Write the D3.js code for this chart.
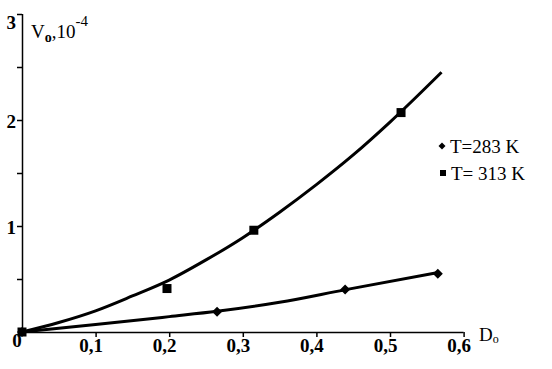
<!DOCTYPE html>
<html>
<head>
<meta charset="utf-8">
<script src="https://cdnjs.cloudflare.com/ajax/libs/d3/7.8.5/d3.min.js"></script>
<style>
  html, body { margin: 0; padding: 0; background: #fff; }
</style>
</head>
<body>
<div id="chart"></div>
<script>
// axis ticks
const xTickVals = [0.1, 0.2, 0.3, 0.4, 0.5, 0.6];
const xTickLabels = ['0,1', '0,2', '0,3', '0,4', '0,5', '0,6'];
const yTickVals = [1, 2, 3];
const yMinorVals = [0.5, 1.5, 2.5];

// measured points, T = 283 K (diamonds)
const d283 = [0, 0.265, 0.439, 0.565];
const v283 = [0, 0.19, 0.40, 0.55];
// measured points, T = 313 K (squares)
const d313 = [0, 0.197, 0.315, 0.515];
const v313 = [0, 0.41, 0.96, 2.07];

// fitted curves
const fit283D = [0, 0.1, 0.2, 0.265, 0.35, 0.44, 0.565];
const fit283V = [0, 0.07, 0.145, 0.195, 0.28, 0.40, 0.56];
const fit313D = [0, 0.05, 0.1, 0.15, 0.2, 0.25, 0.3, 0.35, 0.4, 0.45, 0.5, 0.57];
const fit313V = [0, 0.09, 0.2, 0.34, 0.49, 0.68, 0.89, 1.13, 1.39, 1.67, 1.98, 2.45];

const legendNames = ['T=283 K', 'T= 313 K'];

const SERIF = '"Liberation Serif", "Times New Roman", Times, serif';

class RateChart {
  constructor() {
    this.divId = 'chart';
    this.visConfig = {
      width: 552,
      height: 369,
      x0: 22,
      x1: 463.6,
      y0: 332,
      y1: 14
    };
    this.fontSize = 19;
  }

  diamond(w, h) {
    return `M0,${-h}L${w},0L0,${h}L${-w},0Z`;
  }

  init() {
    const cfg = this.visConfig;
    const svg = d3.select(`#${this.divId}`)
      .append('svg')
      .attr('width', cfg.width)
      .attr('height', cfg.height)
      .style('font-family', SERIF);

    const xscale = d3.scaleLinear().domain([0, 0.6]).range([cfg.x0, cfg.x1]);
    const yscale = d3.scaleLinear().domain([0, 3]).range([cfg.y0, cfg.y1]);

    // x axis, ticks pointing down
    const bottomAxis = d3.axisBottom(xscale)
      .tickValues(xTickVals)
      .tickSize(5)
      .tickFormat((d, i) => xTickLabels[i]);
    const xaxis = svg.append('g')
      .attr('transform', `translate(0, ${cfg.y0})`)
      .call(bottomAxis);
    xaxis.attr('font-family', null);
    xaxis.select('.domain').attr('d', `M${cfg.x0},0.5H${cfg.x1}`).attr('stroke-width', 1.5);
    xaxis.selectAll('.tick line').attr('stroke-width', 1.5);
    xaxis.selectAll('.tick text')
      .style('font-family', SERIF)
      .attr('font-size', this.fontSize)
      .attr('font-weight', 'bold')
      .attr('y', 7)
      .attr('dx', -5);

    // y axis, major + minor ticks pointing left
    const leftAxis = d3.axisLeft(yscale)
      .tickValues(yTickVals.concat(yMinorVals))
      .tickSize(5)
      .tickFormat(d => (yTickVals.includes(d) ? String(d) : ''));
    const yaxis = svg.append('g')
      .attr('transform', `translate(${cfg.x0}, 0)`)
      .call(leftAxis);
    yaxis.attr('font-family', null);
    yaxis.select('.domain').attr('d', `M0.5,${cfg.y0}V${cfg.y1}`).attr('stroke-width', 1.5);
    yaxis.selectAll('.tick line').attr('stroke-width', 1.5);
    yaxis.selectAll('.tick text')
      .style('font-family', SERIF)
      .attr('font-size', this.fontSize)
      .attr('font-weight', 'bold')
      .attr('x', -6)
      .attr('dy', d => (d === 3 ? '0.75em' : '0.4em'));

    // origin label
    svg.append('text')
      .attr('x', 17).attr('y', 347)
      .attr('text-anchor', 'middle')
      .attr('font-size', this.fontSize)
      .attr('font-weight', 'bold')
      .text('0');

    // axis titles
    const yTitle = svg.append('text')
      .attr('x', 31).attr('y', 38)
      .attr('font-size', this.fontSize);
    yTitle.append('tspan').text('V');
    yTitle.append('tspan').attr('font-size', 14).attr('dy', 4).attr('font-weight', 'bold').text('o');
    yTitle.append('tspan').attr('dy', -4).text(',10');
    yTitle.append('tspan').attr('font-size', 15).attr('dy', -12).text('-4');

    const xTitle = svg.append('text')
      .attr('x', 479).attr('y', 341)
      .attr('font-size', this.fontSize);
    xTitle.append('tspan').text('D');
    xTitle.append('tspan').attr('font-size', 12).attr('dy', 2).text('o');

    // fitted lines
    const line = d3.line()
      .x(d => xscale(d[0]))
      .y(d => yscale(d[1]))
      .curve(d3.curveMonotoneX);

    svg.append('path')
      .datum(fit283D.map((d, i) => [d, fit283V[i]]))
      .attr('d', line)
      .attr('fill', 'none')
      .attr('stroke', '#000')
      .attr('stroke-width', 3);

    svg.append('path')
      .datum(fit313D.map((d, i) => [d, fit313V[i]]))
      .attr('d', line)
      .attr('fill', 'none')
      .attr('stroke', '#000')
      .attr('stroke-width', 3);

    // markers
    svg.selectAll('.pt283')
      .data(d283.map((d, i) => [d, v283[i]]))
      .enter()
      .append('path')
      .attr('class', 'pt283')
      .attr('d', this.diamond(5, 5))
      .attr('transform', d => `translate(${xscale(d[0])}, ${yscale(d[1])})`)
      .attr('fill', '#000');

    svg.selectAll('.pt313')
      .data(d313.map((d, i) => [d, v313[i]]))
      .enter()
      .append('rect')
      .attr('class', 'pt313')
      .attr('x', d => xscale(d[0]) - 4.5)
      .attr('y', d => yscale(d[1]) - 4.5)
      .attr('width', 9)
      .attr('height', 9)
      .attr('fill', '#000');

    // legend
    const legend = svg.append('g');
    legend.append('path')
      .attr('d', this.diamond(3.5, 3.5))
      .attr('transform', 'translate(442, 146)');
    legend.append('rect')
      .attr('x', 440).attr('y', 170).attr('width', 6).attr('height', 6);
    legend.selectAll('.legText')
      .data(legendNames)
      .enter()
      .append('text')
      .attr('class', 'legText')
      .attr('x', (d, i) => (i === 0 ? 450 : 451))
      .attr('y', (d, i) => (i === 0 ? 153 : 180))
      .attr('font-size', this.fontSize)
      .text(d => d);
  }
}

const chart = new RateChart();
chart.init();
</script>
</body>
</html>
